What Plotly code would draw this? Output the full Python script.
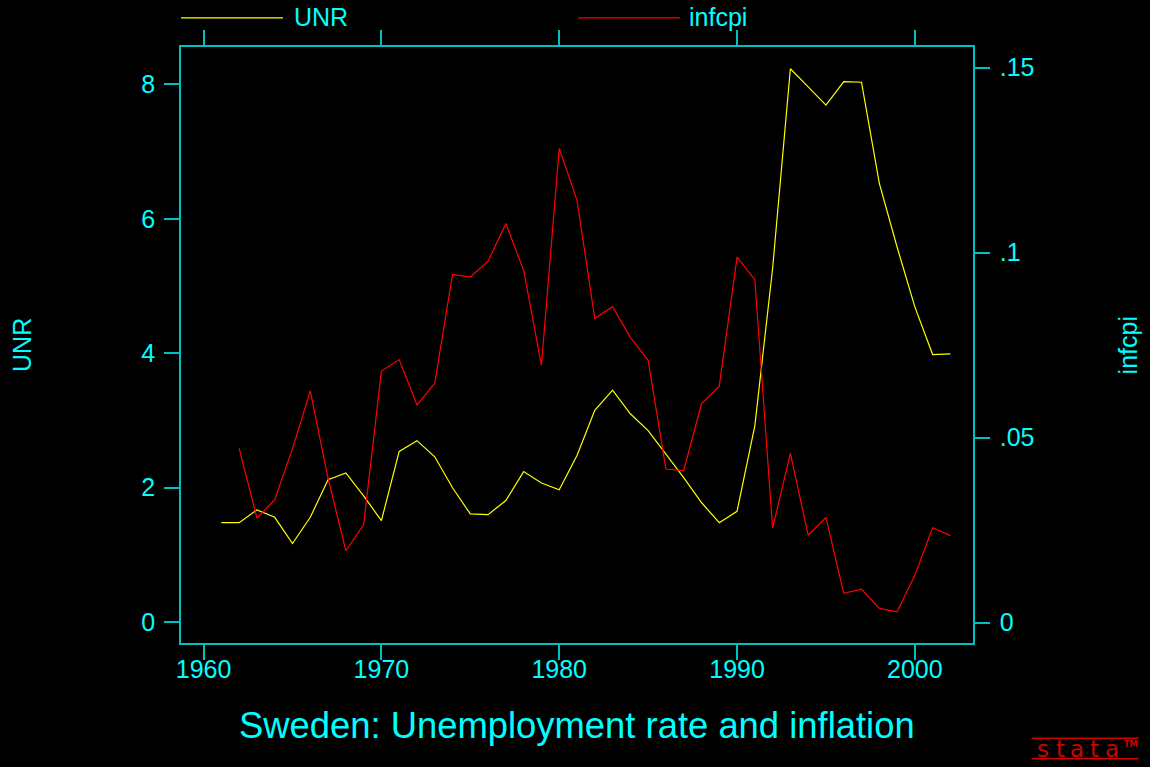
import plotly.graph_objects as go

# Annual series, Sweden
years = list(range(1961, 2003))

unr = [1.48, 1.48, 1.67, 1.56, 1.17, 1.56, 2.12, 2.22, 1.88, 1.51,
       2.54, 2.70, 2.46, 2.00, 1.61, 1.60, 1.81, 2.24, 2.07, 1.97,
       2.48, 3.15, 3.45, 3.10, 2.85, 2.50, 2.15, 1.78, 1.48, 1.65,
       2.92, 5.26, 8.23, 7.96, 7.69, 8.04, 8.03, 6.53, 5.58, 4.69,
       3.98, 3.99]

infcpi = [None, 0.0471, 0.0282, 0.0332, 0.0470, 0.0626, 0.0390, 0.0194, 0.0264, 0.0680,
          0.0711, 0.0588, 0.0647, 0.0941, 0.0934, 0.0977, 0.1079, 0.0952, 0.0696, 0.1282,
          0.1142, 0.0822, 0.0854, 0.0771, 0.0709, 0.0415, 0.0411, 0.0591, 0.0639, 0.0988,
          0.0927, 0.0255, 0.0457, 0.0236, 0.0284, 0.0079, 0.0090, 0.0038, 0.0029, 0.0128,
          0.0256, 0.0235]

x_ticks = [1960, 1970, 1980, 1990, 2000]
y_ticks = [0, 2, 4, 6, 8]
y2_ticks = [0, 0.05, 0.10, 0.15]
y2_labels = ["0", ".05", ".1", ".15"]

title_text = "Sweden: Unemployment rate and inflation"

BG = "#000000"
TEXT = "#00FFFF"
AXIS = "#00C0C0"
YELLOW = "#FFFF00"
RED = "#FF0000"
FONT = "Liberation Sans, Arial, sans-serif"

fig = go.Figure()
fig.add_trace(go.Scatter(x=years, y=unr, mode="lines", name="UNR",
                         line=dict(color=YELLOW, width=1.2)))
fig.add_trace(go.Scatter(x=years, y=infcpi, mode="lines", name="infcpi",
                         line=dict(color=RED, width=1.2), yaxis="y2",
                         connectgaps=False))

axis_common = dict(showgrid=False, zeroline=False, showline=True,
                   linecolor=AXIS, linewidth=1.5, ticks="outside",
                   ticklen=15, tickwidth=1.5, tickcolor=AXIS,
                   tickfont=dict(family=FONT, size=25, color=TEXT))

fig.update_layout(
    width=1150, height=767,
    paper_bgcolor=BG, plot_bgcolor=BG,
    margin=dict(l=181, r=177, t=47, b=124, autoexpand=False),
    showlegend=False,
    xaxis=dict(range=[1958.73, 2003.27], tickvals=x_ticks, mirror="ticks",
               ticklabelstandoff=-12, **axis_common),
    yaxis=dict(range=[-0.309, 8.554], tickvals=y_ticks,
               ticklabelstandoff=4, **axis_common),
    yaxis2=dict(range=[-0.00554, 0.1556], tickvals=y2_ticks, ticktext=y2_labels,
                overlaying="y", side="right", ticklabelstandoff=5, **axis_common),
)

# Legend keys drawn above the plot box
legend_y = 1.049
fig.add_shape(type="line", xref="paper", yref="paper", x0=0.0, x1=0.1288,
              y0=legend_y, y1=legend_y, line=dict(color=YELLOW, width=1.2))
fig.add_shape(type="line", xref="paper", yref="paper", x0=0.5015, x1=0.6303,
              y0=legend_y, y1=legend_y, line=dict(color=RED, width=1.2))
fig.add_annotation(text="UNR", xref="paper", yref="paper", x=0.1398, y=1.051,
                   xanchor="left", yanchor="middle", showarrow=False,
                   font=dict(family=FONT, size=25, color=TEXT))
fig.add_annotation(text="infcpi", xref="paper", yref="paper", x=0.6386, y=1.051,
                   xanchor="left", yanchor="middle", showarrow=False,
                   font=dict(family=FONT, size=25, color=TEXT))

# Axis titles
fig.add_annotation(text="UNR", xref="paper", yref="paper", x=-0.2008, y=0.5,
                   textangle=-90, xanchor="center", yanchor="middle", showarrow=False,
                   font=dict(family=FONT, size=25, color=TEXT))
fig.add_annotation(text="infcpi", xref="paper", yref="paper", x=1.1962, y=0.5,
                   textangle=-90, xanchor="center", yanchor="middle", showarrow=False,
                   font=dict(family=FONT, size=25, color=TEXT))

# Chart title below the plot
fig.add_annotation(text=title_text, xref="paper", yref="paper", x=0.5, y=-0.1386,
                   xanchor="center", yanchor="middle", showarrow=False,
                   font=dict(family=FONT, size=36.4, color=TEXT))

# Small brand mark in the corner
LOGO = "#D00000"
for yy in (-0.1599, -0.1944):
    fig.add_shape(type="line", xref="paper", yref="paper", x0=1.0745, x1=1.2092,
                  y0=yy, y1=yy, line=dict(color=LOGO, width=1.5))
logo_letters = ["s", "t", "a", "t", "a"]
for i, ch in enumerate(logo_letters):
    fig.add_annotation(text=ch, xref="paper", yref="paper",
                       x=1.0885 + i * 0.0217, y=-0.1785,
                       xanchor="center", yanchor="middle", showarrow=False,
                       font=dict(family="DejaVu Sans, sans-serif", size=23, color=LOGO))
fig.add_annotation(text="<b>TM</b>", xref="paper", yref="paper", x=1.1987, y=-0.1700,
                   xanchor="center", yanchor="middle", showarrow=False,
                   font=dict(family="DejaVu Sans, sans-serif", size=8, color=LOGO))

fig.write_html("out.html")
